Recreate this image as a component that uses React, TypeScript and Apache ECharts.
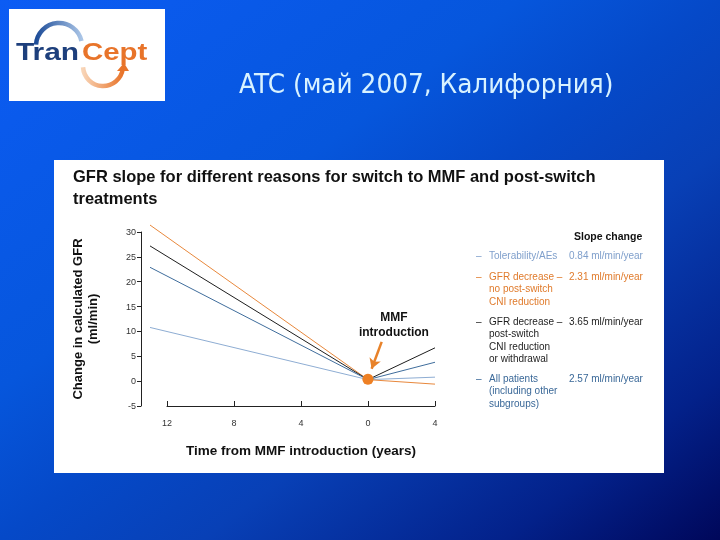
import React, { useEffect, useRef } from "react";
import * as echarts from "echarts";

// ---- data ----
const years = [-13, 0, 4];
const tolerability = [10.8, 0.3, 0.8];
const noCniReduction = [31.4, 0.3, -0.6];
const cniReduction = [27.2, 0.3, 6.7];
const allPatients = [22.9, 0.3, 3.8];
const switchPoint = [0, 0.4];
const arrowFrom = [0.82, 7.9];
const arrowTo = [0.22, 2.5];
const annotationAt = [1.55, 11.4];

const seriesNames = [
  "Tolerability/AEs",
  "GFR decrease –\nno post-switch\nCNI reduction",
  "GFR decrease –\npost-switch\nCNI reduction\nor withdrawal",
  "All patients\n(including other\nsubgroups)",
];
const slopeChanges = ["0.84", "2.31", "3.65", "2.57"];
const seriesValues = [tolerability, noCniReduction, cniReduction, allPatients];
const lineColors = ["#8eadd3", "#e8883c", "#1e1e1e", "#3f6d9c"];
const legendColors = ["#7f9fcb", "#e07b2c", "#1e1e1e", "#3a6898"];

const mainTitle = "ATC (май 2007, Калифорния)";
const chartTitle = "GFR slope for different reasons for switch to MMF and post-switch\ntreatments";
const yName = "Change in calculated GFR\n(ml/min)";
const xName = "Time from MMF introduction (years)";
const annotation = "MMF\nintroduction";

export default function App() {
  const ref = useRef<HTMLDivElement>(null);
  useEffect(() => {
    if (!ref.current) return;
    const chart = echarts.init(ref.current, null, { renderer: "svg" });

    const font = "'Liberation Sans', Arial, sans-serif";
    const lh = 12.4;
    const legendEls: any[] = [];
    let y = 256;
    seriesNames.forEach((n, i) => {
      const lines = n.split("\n").length;
      const base = { fill: legendColors[i], fontSize: 10, fontFamily: font, lineHeight: lh, verticalAlign: "top" };
      legendEls.push({ type: "text", x: 476, y: y - lh / 2, style: { ...base, text: "–" } });
      legendEls.push({ type: "text", x: 489, y: y - lh / 2, style: { ...base, text: n } });
      legendEls.push({ type: "text", x: 569, y: y - lh / 2, style: { ...base, text: slopeChanges[i] + " ml/min/year" } });
      y += lines * lh + 7.8;
    });

    const gridBox = { right: 285, top: 232, bottom: 134 };

    const option: any = {
      animation: false,
      title: [
        {
          text: chartTitle,
          left: 73,
          top: 165,
          padding: 0,
          textStyle: { color: "#111", fontSize: 16.5, fontWeight: "bold", fontFamily: font, lineHeight: 22 },
        },
      ],
      graphic: [
        {
          type: "rect",
          z: -100,
          shape: { x: 0, y: 0, width: 720, height: 540 },
          style: {
            fill: new echarts.graphic.LinearGradient(0, 0, 1, 1, [
              { offset: 0, color: "#0c5cf4" },
              { offset: 0.36, color: "#0656dc" },
              { offset: 0.5, color: "#0549c8" },
              { offset: 0.64, color: "#0840b6" },
              { offset: 0.85, color: "#03218a" },
              { offset: 1, color: "#00075a" },
            ]),
          },
        },
        {
          type: "text",
          x: 239,
          y: 84,
          scaleX: 0.955,
          style: {
            text: mainTitle,
            fill: "#d8f2ff",
            fontSize: 26,
            fontFamily: "'DejaVu Sans', sans-serif",
            verticalAlign: "middle",
            shadowColor: "rgba(0,0,40,0.6)",
            shadowOffsetX: 1,
            shadowOffsetY: 1,
            shadowBlur: 1,
          },
        },
        { type: "rect", z: -50, shape: { x: 9, y: 9, width: 156, height: 92 }, style: { fill: "#ffffff" } },
        { type: "rect", z: -50, shape: { x: 54, y: 160, width: 610, height: 313 }, style: { fill: "#ffffff" } },
        {
          type: "arc",
          shape: { cx: 59, cy: 46, r: 23, startAngle: Math.PI * 1.02, endAngle: Math.PI * 1.93, clockwise: true },
          style: {
            stroke: new echarts.graphic.LinearGradient(0, 0, 1, 0, [
              { offset: 0, color: "#1d4c98" },
              { offset: 1, color: "#a9c4e6" },
            ]),
            lineWidth: 4.5,
            fill: "none",
          },
        },
        {
          type: "arc",
          shape: { cx: 103, cy: 66, r: 20, startAngle: 0.15, endAngle: Math.PI * 0.98, clockwise: true },
          style: {
            stroke: new echarts.graphic.LinearGradient(1, 0, 0, 0, [
              { offset: 0, color: "#e8742a" },
              { offset: 1, color: "#f8d4b6" },
            ]),
            lineWidth: 4.5,
            fill: "none",
          },
        },
        {
          type: "polygon",
          shape: { points: [[117, 71], [129, 71], [124, 63]] },
          style: { fill: "#e8742a" },
        },
        {
          type: "text",
          x: 16,
          y: 52,
          scaleX: 1.3,
          style: { text: "Tran", fill: "#1d3f7c", fontSize: 23, fontWeight: "bold", fontFamily: font, verticalAlign: "middle" },
        },
        {
          type: "text",
          x: 82,
          y: 52,
          scaleX: 1.28,
          style: { text: "Cept", fill: "#e8742a", fontSize: 23, fontWeight: "bold", fontFamily: font, verticalAlign: "middle" },
        },
        {
          type: "text",
          x: 574,
          y: 236,
          style: { text: "Slope change", fill: "#111", fontSize: 10.5, fontWeight: "bold", fontFamily: font, verticalAlign: "middle" },
        },
        ...legendEls,
      ],
      grid: [
        { left: 150, ...gridBox },
        { left: 167, ...gridBox },
      ],
      xAxis: [
        { type: "value", gridIndex: 0, min: -13, max: 4, show: false },
        {
          type: "value",
          gridIndex: 1,
          min: -12,
          max: 4,
          interval: 4,
          name: xName,
          nameLocation: "middle",
          nameGap: 37,
          nameTextStyle: { fontSize: 13.5, fontWeight: "bold", color: "#111", fontFamily: font },
          axisLine: { onZero: false, lineStyle: { color: "#222", width: 1 } },
          axisTick: { inside: true, length: 5, lineStyle: { color: "#222" } },
          axisLabel: { fontSize: 9, color: "#333", margin: 12, fontFamily: font, formatter: (v: number) => String(Math.abs(v)) },
          splitLine: { show: false },
        },
      ],
      yAxis: [
        {
          type: "value",
          gridIndex: 0,
          min: -5,
          max: 30,
          interval: 5,
          offset: 9,
          name: yName,
          nameLocation: "middle",
          nameRotate: 90,
          nameGap: 41,
          nameTextStyle: { fontSize: 13, fontWeight: "bold", color: "#111", fontFamily: font, lineHeight: 15 },
          axisLine: { show: true, onZero: false, lineStyle: { color: "#222", width: 1 } },
          axisTick: { show: true, length: 4, lineStyle: { color: "#222" } },
          axisLabel: { fontSize: 9, color: "#333", margin: 5, fontFamily: font },
          splitLine: { show: false },
        },
        { type: "value", gridIndex: 1, min: -5, max: 30, show: false },
      ],
      series: [
        ...seriesValues.map((vals, i) => ({
          type: "line",
          name: seriesNames[i].replace(/\n/g, " "),
          xAxisIndex: 0,
          yAxisIndex: 0,
          data: vals.map((v, j) => [years[j], v]),
          symbol: "none",
          clip: false,
          lineStyle: { color: lineColors[i], width: 1 },
          z: 3,
        })),
        {
          type: "scatter",
          name: "MMF introduction",
          xAxisIndex: 0,
          yAxisIndex: 0,
          data: [switchPoint],
          symbolSize: 11,
          itemStyle: { color: "#ee8024", opacity: 1 },
          z: 5,
          markLine: {
            silent: true,
            symbol: ["none", "arrow"],
            symbolSize: [9, 10],
            label: { show: false },
            lineStyle: { color: "#e8822a", width: 2.5, type: "solid", opacity: 1 },
            data: [[{ coord: arrowFrom }, { coord: arrowTo }]],
          },
          markPoint: {
            silent: true,
            symbol: "circle",
            symbolSize: 0,
            data: [{ coord: annotationAt }],
            label: {
              show: true,
              formatter: annotation,
              color: "#111",
              fontSize: 12,
              fontWeight: "bold",
              fontFamily: font,
              lineHeight: 15,
              align: "center",
              verticalAlign: "middle",
            },
          },
        },
      ],
    };
    chart.setOption(option);
    return () => chart.dispose();
  }, []);
  return <div ref={ref} style={{ position: "fixed", left: 0, top: 0, width: 720, height: 540 }} />;
}
